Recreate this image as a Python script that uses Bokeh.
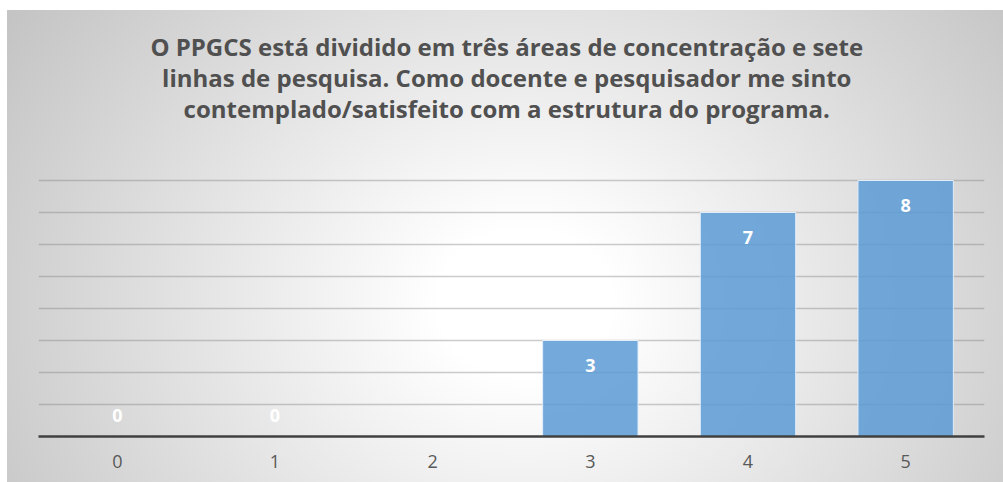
from bokeh.plotting import figure
from bokeh.models import FactorRange, Range1d, FixedTicker, Label, InlineStyleSheet, ColumnDataSource
from bokeh.core.properties import value
from bokeh.embed import file_html
from bokeh.resources import INLINE
import math

# ---- data ----
categories = ["0", "1", "2", "3", "4", "5"]
counts = [0, 0, float("nan"), 3, 7, 8]
title_lines = [
    "O PPGCS está dividido em três áreas de concentração e sete",
    "linhas de pesquisa. Como docente e pesquisador me sinto",
    "contemplado/satisfeito com a estrutura do programa.",
]
y_ticks = [0, 1, 2, 3, 4, 5, 6, 7, 8]

W, H = 1003, 482
PX_PER_UNIT = 32.0
AXIS_Y = 436
y_top = AXIS_Y / PX_PER_UNIT

p = figure(
    width=W, height=H,
    x_range=FactorRange(factors=categories, range_padding=0),
    y_range=Range1d(0, y_top),
    output_backend="svg", toolbar_location=None,
    min_border_left=38, min_border_right=19, min_border_top=0, min_border_bottom=H - AXIS_Y,
)
p.stylesheets = [InlineStyleSheet(css=(
    ":host { background-color: #ffffff;"
    " background-image: radial-gradient(ellipse 62% 110% at 52% 62%, #ffffff 0%, #ffffff 14%, #c4c4c4 100%);"
    " background-size: 996px 472px; background-position: 7px 10px; background-repeat: no-repeat; }"
))]
p.background_fill_alpha = 0
p.border_fill_alpha = 0
p.outline_line_color = None

# grid
p.yaxis.visible = False
p.yaxis.ticker = FixedTicker(ticks=y_ticks)
p.ygrid.ticker = FixedTicker(ticks=y_ticks)
p.ygrid.grid_line_color = "#808080"
p.ygrid.grid_line_alpha = 0.4
p.ygrid.grid_line_width = 1.5
p.xgrid.grid_line_color = None

# x axis
xa = p.xaxis[0]
xa.axis_line_color = "#404040"
xa.axis_line_width = 2.5
xa.major_tick_line_color = None
xa.minor_tick_line_color = None
xa.major_tick_out = 0
xa.major_tick_in = 0
xa.major_label_standoff = 18
xa.major_label_text_font = "Open Sans"
xa.major_label_text_font_size = "18px"
xa.major_label_text_color = "#595959"

# bars
src = ColumnDataSource(dict(x=categories, top=counts))
p.vbar(x="x", top="top", width=0.605, source=src,
       fill_color="#5b9bd5", fill_alpha=0.85, line_color="#e3eef9", line_width=1)

# data labels
lx, ly, lt = [], [], []
for c, v in zip(categories, counts):
    if v is None or (isinstance(v, float) and math.isnan(v)):
        continue
    lx.append(c)
    lt.append(str(int(v)))
    ly.append(v - 25 / PX_PER_UNIT if v > 0 else 21 / PX_PER_UNIT)
p.text(x=lx, y=ly, text=lt, text_align="center", text_baseline="middle",
       text_color="white", text_font=value("Open Sans"), text_font_style="bold",
       text_font_size="18px")

# title lines
title_y_px = [46, 77, 108]  # page y of line centers
for line, ypx in zip(title_lines, title_y_px):
    p.add_layout(Label(x=2.97, y=(AXIS_Y - ypx) / PX_PER_UNIT, text=line,
                       text_align="center", text_baseline="middle",
                       text_font="Open Sans", text_font_style="bold",
                       text_font_size="24px", text_color="#505050"))

open("out.html", "w").write(file_html(p, INLINE))
